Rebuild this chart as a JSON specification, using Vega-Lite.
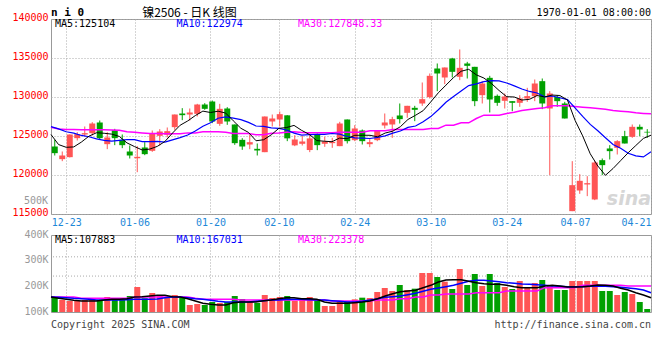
{
  "$schema": "https://vega.github.io/schema/vega-lite/v6.json",
  "background": "white",
  "padding": {"left": 11, "top": 6, "right": 8, "bottom": 4},
  "spacing": 0,
  "config": {
    "view": {"stroke": "#999999", "strokeWidth": 1},
    "axis": {"labelFont": "DejaVu Sans Mono", "labelFontSize": 10, "title": null},
    "text": {"font": "DejaVu Sans Mono", "fontSize": 10}
  },
  "resolve": {"scale": {"x": "independent", "y": "independent"}},
  "datasets": {
    "k": [
      {"d":"2024-12-19","o":123654,"h":124509,"l":122501,"c":122800,"v":158440,"m5":125190,"m10":126200,"m30":126130,"vm5":158440,"vm10":158440,"vm30":158440},
      {"d":"2024-12-20","o":122031,"h":123013,"l":121774,"c":122501,"v":146750,"m5":123900,"m10":125920,"m30":125900,"vm5":153260,"vm10":157140,"vm30":158440},
      {"d":"2024-12-23","o":122287,"h":125200,"l":122250,"c":125193,"v":142860,"m5":123550,"m10":125540,"m30":125830,"vm5":149360,"vm10":155840,"vm30":158440},
      {"d":"2024-12-24","o":124723,"h":125490,"l":124424,"c":125235,"v":142860,"m5":123600,"m10":125370,"m30":125820,"vm5":145450,"vm10":153260,"vm30":158440},
      {"d":"2024-12-25","o":125193,"h":126218,"l":124936,"c":125364,"v":146750,"m5":124220,"m10":125070,"m30":125810,"vm5":142860,"vm10":151930,"vm30":153260},
      {"d":"2024-12-26","o":125364,"h":126774,"l":125064,"c":126603,"v":146750,"m5":124980,"m10":124900,"m30":125800,"vm5":142860,"vm10":149360,"vm30":153260},
      {"d":"2024-12-27","o":126731,"h":126987,"l":124509,"c":124723,"v":146750,"m5":125420,"m10":124640,"m30":125800,"vm5":142860,"vm10":146750,"vm30":153260},
      {"d":"2024-12-30","o":123954,"h":125492,"l":123312,"c":124808,"v":158440,"m5":125350,"m10":124430,"m30":125790,"vm5":146750,"vm10":146750,"vm30":153260},
      {"d":"2024-12-31","o":125748,"h":125919,"l":123825,"c":124723,"v":153370,"m5":125240,"m10":124340,"m30":125770,"vm5":149360,"vm10":146750,"vm30":153260},
      {"d":"2025-01-02","o":124509,"h":125193,"l":123441,"c":123825,"v":146750,"m5":124940,"m10":124450,"m30":125750,"vm5":149360,"vm10":146750,"vm30":153260},
      {"d":"2025-01-03","o":123013,"h":123783,"l":122116,"c":122501,"v":162340,"m5":124120,"m10":124550,"m30":125540,"vm5":151930,"vm10":148050,"vm30":153260},
      {"d":"2025-01-06","o":122150,"h":123700,"l":120360,"c":122330,"v":197400,"m5":123640,"m10":124530,"m30":125480,"vm5":158440,"vm10":149360,"vm30":158440},
      {"d":"2025-01-07","o":123526,"h":124210,"l":122543,"c":122672,"v":153370,"m5":123210,"m10":124280,"m30":125400,"vm5":159740,"vm10":149360,"vm30":158440},
      {"d":"2025-01-08","o":123099,"h":125705,"l":122970,"c":125278,"v":174020,"m5":123320,"m10":124280,"m30":125320,"vm5":162340,"vm10":149360,"vm30":158440},
      {"d":"2025-01-09","o":125022,"h":125876,"l":123783,"c":125577,"v":166230,"m5":123670,"m10":124300,"m30":125320,"vm5":164940,"vm10":150650,"vm30":158440},
      {"d":"2025-01-10","o":125150,"h":126090,"l":124808,"c":125620,"v":158440,"m5":124300,"m10":124210,"m30":125280,"vm5":164940,"vm10":155840,"vm30":158440},
      {"d":"2025-01-13","o":126133,"h":127756,"l":125791,"c":127756,"v":166230,"m5":125380,"m10":124510,"m30":125280,"vm5":159740,"vm10":158440,"vm30":158440},
      {"d":"2025-01-14","o":127885,"h":128568,"l":127030,"c":127671,"v":158440,"m5":126380,"m10":124800,"m30":125280,"vm5":158440,"vm10":158440,"vm30":158440},
      {"d":"2025-01-15","o":127756,"h":128526,"l":126987,"c":128013,"v":127270,"m5":126930,"m10":125120,"m30":125400,"vm5":151930,"vm10":155840,"vm30":158440},
      {"d":"2025-01-16","o":127842,"h":129124,"l":127500,"c":129038,"v":131170,"m5":127620,"m10":125650,"m30":125400,"vm5":142860,"vm10":151930,"vm30":153260},
      {"d":"2025-01-17","o":129038,"h":129209,"l":128355,"c":128483,"v":127270,"m5":128190,"m10":126240,"m30":125530,"vm5":133780,"vm10":149360,"vm30":149360},
      {"d":"2025-01-20","o":129423,"h":129551,"l":126645,"c":126859,"v":138960,"m5":128010,"m10":126700,"m30":125530,"vm5":129870,"vm10":145450,"vm30":149360},
      {"d":"2025-01-21","o":126560,"h":129124,"l":126304,"c":128483,"v":135060,"m5":128180,"m10":127280,"m30":125530,"vm5":127270,"vm10":141560,"vm30":149360},
      {"d":"2025-01-22","o":128526,"h":128697,"l":126432,"c":126859,"v":138960,"m5":127940,"m10":127440,"m30":125490,"vm5":127270,"vm10":138960,"vm30":149360},
      {"d":"2025-01-23","o":126475,"h":126475,"l":123868,"c":124082,"v":162340,"m5":126950,"m10":127290,"m30":125320,"vm5":136370,"vm10":138960,"vm30":149360},
      {"d":"2025-01-24","o":124509,"h":124723,"l":123227,"c":123654,"v":150650,"m5":125990,"m10":127090,"m30":125320,"vm5":138960,"vm10":138960,"vm30":146750},
      {"d":"2025-01-27","o":123911,"h":125150,"l":123312,"c":124210,"v":138960,"m5":125460,"m10":126740,"m30":125320,"vm5":138960,"vm10":138960,"vm30":146750},
      {"d":"2025-02-05","o":123355,"h":124039,"l":122501,"c":123142,"v":135060,"m5":124390,"m10":126280,"m30":125150,"vm5":138960,"vm10":141560,"vm30":146750},
      {"d":"2025-02-06","o":122928,"h":127500,"l":122928,"c":127500,"v":166230,"m5":124520,"m10":126230,"m30":125150,"vm5":144160,"vm10":144160,"vm30":146750},
      {"d":"2025-02-07","o":126859,"h":127756,"l":126219,"c":127244,"v":154540,"m5":125150,"m10":126050,"m30":125360,"vm5":146750,"vm10":146750,"vm30":146750},
      {"d":"2025-02-10","o":127116,"h":128141,"l":126219,"c":127799,"v":158440,"m5":125980,"m10":125980,"m30":125400,"vm5":151930,"vm10":146750,"vm30":146750},
      {"d":"2025-02-11","o":127650,"h":127671,"l":124338,"c":124700,"v":162340,"m5":126080,"m10":125770,"m30":125490,"vm5":155840,"vm10":149360,"vm30":146750},
      {"d":"2025-02-12","o":123800,"h":125109,"l":123699,"c":124553,"v":142860,"m5":126360,"m10":125370,"m30":125560,"vm5":155840,"vm10":149360,"vm30":146750},
      {"d":"2025-02-13","o":124000,"h":125023,"l":123784,"c":124297,"v":150650,"m5":125720,"m10":125120,"m30":125450,"vm5":151930,"vm10":149360,"vm30":146750},
      {"d":"2025-02-14","o":123200,"h":125323,"l":122929,"c":124690,"v":158440,"m5":125210,"m10":125180,"m30":125410,"vm5":151930,"vm10":148050,"vm30":146750},
      {"d":"2025-02-17","o":125194,"h":125323,"l":123186,"c":123827,"v":150650,"m5":124410,"m10":125200,"m30":125410,"vm5":149360,"vm10":146750,"vm30":146750},
      {"d":"2025-02-18","o":124003,"h":124895,"l":123613,"c":124297,"v":123380,"m5":124330,"m10":125200,"m30":125410,"vm5":138960,"vm10":146750,"vm30":146750},
      {"d":"2025-02-19","o":124083,"h":124767,"l":123485,"c":124254,"v":123380,"m5":124270,"m10":125320,"m30":125410,"vm5":133780,"vm10":144160,"vm30":142860},
      {"d":"2025-02-20","o":123699,"h":126818,"l":123699,"c":126604,"v":140260,"m5":124730,"m10":125230,"m30":125490,"vm5":133780,"vm10":141560,"vm30":142860},
      {"d":"2025-02-21","o":127117,"h":127117,"l":124040,"c":124339,"v":141560,"m5":124660,"m10":124940,"m30":125490,"vm5":133780,"vm10":138960,"vm30":142860},
      {"d":"2025-02-24","o":124468,"h":126391,"l":124339,"c":125963,"v":149350,"m5":125090,"m10":124750,"m30":125490,"vm5":136370,"vm10":138960,"vm30":142860},
      {"d":"2025-02-25","o":125707,"h":125835,"l":123912,"c":124339,"v":155840,"m5":125100,"m10":124720,"m30":125490,"vm5":138960,"vm10":141560,"vm30":142860},
      {"d":"2025-02-26","o":123955,"h":124596,"l":123571,"c":124211,"v":154540,"m5":125090,"m10":124680,"m30":125660,"vm5":142860,"vm10":146750,"vm30":142860},
      {"d":"2025-02-27","o":124468,"h":125664,"l":124339,"c":125664,"v":177920,"m5":124900,"m10":124820,"m30":125660,"vm5":151930,"vm10":151930,"vm30":146750},
      {"d":"2025-02-28","o":126348,"h":127886,"l":125963,"c":126733,"v":193500,"m5":125380,"m10":125020,"m30":125660,"vm5":162340,"vm10":157140,"vm30":146750},
      {"d":"2025-03-03","o":126476,"h":127459,"l":124767,"c":127160,"v":181820,"m5":125620,"m10":125360,"m30":125830,"vm5":171420,"vm10":159740,"vm30":146750},
      {"d":"2025-03-04","o":127630,"h":129168,"l":126604,"c":127160,"v":205190,"m5":126190,"m10":125640,"m30":125830,"vm5":179230,"vm10":162340,"vm30":151930},
      {"d":"2025-03-05","o":127972,"h":128869,"l":127331,"c":128869,"v":185710,"m5":127120,"m10":126100,"m30":125830,"vm5":181820,"vm10":167540,"vm30":151930},
      {"d":"2025-03-06","o":128612,"h":128869,"l":126903,"c":128356,"v":190910,"m5":127660,"m10":126280,"m30":125835,"vm5":184420,"vm10":172720,"vm30":158440},
      {"d":"2025-03-07","o":129168,"h":131860,"l":128869,"c":129724,"v":251940,"m5":128250,"m10":126820,"m30":125835,"vm5":194790,"vm10":180520,"vm30":158440},
      {"d":"2025-03-10","o":129980,"h":133014,"l":129809,"c":132715,"v":251940,"m5":129370,"m10":127490,"m30":125960,"vm5":203900,"vm10":188320,"vm30":166230},
      {"d":"2025-03-11","o":133654,"h":134295,"l":130749,"c":133014,"v":236360,"m5":130540,"m10":128360,"m30":125960,"vm5":216880,"vm10":193500,"vm30":166230},
      {"d":"2025-03-12","o":132501,"h":133783,"l":131646,"c":133783,"v":218180,"m5":131520,"m10":129320,"m30":126390,"vm5":224670,"vm10":198710,"vm30":170130},
      {"d":"2025-03-13","o":134936,"h":135022,"l":132501,"c":133227,"v":189610,"m5":132490,"m10":130070,"m30":126390,"vm5":225980,"vm10":203900,"vm30":170130},
      {"d":"2025-03-14","o":132586,"h":136090,"l":132159,"c":133740,"v":267530,"m5":133300,"m10":130780,"m30":126690,"vm5":225980,"vm10":211690,"vm30":170130},
      {"d":"2025-03-17","o":134295,"h":134509,"l":132373,"c":133996,"v":205190,"m5":133550,"m10":131460,"m30":126690,"vm5":219480,"vm10":219480,"vm30":170130},
      {"d":"2025-03-18","o":133868,"h":133868,"l":128826,"c":129467,"v":248050,"m5":132840,"m10":131690,"m30":127245,"vm5":214270,"vm10":223370,"vm30":175310},
      {"d":"2025-03-19","o":130236,"h":132031,"l":129168,"c":131732,"v":201300,"m5":132430,"m10":131980,"m30":127670,"vm5":210380,"vm10":223370,"vm30":175310},
      {"d":"2025-03-20","o":132458,"h":132715,"l":128014,"c":129681,"v":248050,"m5":131720,"m10":132110,"m30":127670,"vm5":207790,"vm10":220780,"vm30":175310},
      {"d":"2025-03-21","o":130150,"h":130321,"l":128869,"c":129253,"v":212990,"m5":130830,"m10":132060,"m30":127670,"vm5":207790,"vm10":218180,"vm30":175310},
      {"d":"2025-03-24","o":129510,"h":130449,"l":128527,"c":130065,"v":197400,"m5":130040,"m10":131800,"m30":127886,"vm5":203900,"vm10":214270,"vm30":181820},
      {"d":"2025-03-25","o":129467,"h":129467,"l":128185,"c":129253,"v":189610,"m5":130000,"m10":131420,"m30":128057,"vm5":198710,"vm10":211690,"vm30":181820},
      {"d":"2025-03-26","o":129253,"h":130236,"l":128740,"c":129809,"v":220780,"m5":129610,"m10":131020,"m30":128270,"vm5":194790,"vm10":209080,"vm30":181820},
      {"d":"2025-03-27","o":129809,"h":131176,"l":129381,"c":130108,"v":193500,"m5":129700,"m10":130710,"m30":128400,"vm5":194790,"vm10":207790,"vm30":181820},
      {"d":"2025-03-28","o":130108,"h":132245,"l":129467,"c":131732,"v":212990,"m5":130190,"m10":130510,"m30":128527,"vm5":194790,"vm10":206490,"vm30":181820},
      {"d":"2025-03-31","o":132031,"h":132373,"l":128442,"c":129168,"v":224670,"m5":130010,"m10":130030,"m30":128612,"vm5":201300,"vm10":203900,"vm30":194790},
      {"d":"2025-04-01","o":128527,"h":130749,"l":119981,"c":130449,"v":201300,"m5":130250,"m10":130130,"m30":128869,"vm5":203900,"vm10":201300,"vm30":194790},
      {"d":"2025-04-02","o":130022,"h":130236,"l":128741,"c":129467,"v":185710,"m5":130190,"m10":129900,"m30":128869,"vm5":201300,"vm10":200000,"vm30":194790},
      {"d":"2025-04-03","o":129168,"h":129381,"l":127245,"c":127245,"v":185710,"m5":129610,"m10":129660,"m30":128869,"vm5":197400,"vm10":198710,"vm30":194790},
      {"d":"2025-04-07","o":115366,"h":121775,"l":115366,"c":118699,"v":220780,"m5":127010,"m10":128600,"m30":128783,"vm5":197400,"vm10":198710,"vm30":194790},
      {"d":"2025-04-08","o":118015,"h":120109,"l":117588,"c":119254,"v":220780,"m5":125020,"m10":127520,"m30":128698,"vm5":198710,"vm10":198710,"vm30":203900},
      {"d":"2025-04-09","o":118785,"h":119853,"l":117289,"c":118955,"v":220780,"m5":122720,"m10":126490,"m30":128612,"vm5":201300,"vm10":200000,"vm30":203900},
      {"d":"2025-04-10","o":116862,"h":121775,"l":116777,"c":121604,"v":220780,"m5":121150,"m10":125670,"m30":128527,"vm5":205190,"vm10":201300,"vm30":203900},
      {"d":"2025-04-11","o":121903,"h":122117,"l":119981,"c":121263,"v":181820,"m5":119960,"m10":124780,"m30":128441,"vm5":203900,"vm10":200000,"vm30":203900},
      {"d":"2025-04-14","o":123400,"h":123827,"l":121989,"c":123058,"v":181820,"m5":120830,"m10":123920,"m30":128270,"vm5":201300,"vm10":198710,"vm30":203900},
      {"d":"2025-04-15","o":123485,"h":124468,"l":122630,"c":124339,"v":166230,"m5":121840,"m10":123430,"m30":128185,"vm5":192190,"vm10":196110,"vm30":203900},
      {"d":"2025-04-16","o":124980,"h":125664,"l":124040,"c":124040,"v":177920,"m5":122860,"m10":122790,"m30":128100,"vm5":185710,"vm10":193500,"vm30":201300},
      {"d":"2025-04-17","o":124895,"h":126476,"l":124767,"c":126177,"v":170130,"m5":123780,"m10":122460,"m30":127971,"vm5":175310,"vm10":190910,"vm30":201300},
      {"d":"2025-04-18","o":126177,"h":126476,"l":124980,"c":125835,"v":138960,"m5":124690,"m10":122320,"m30":127900,"vm5":166230,"vm10":185710,"vm30":201300},
      {"d":"2025-04-21","o":125536,"h":125878,"l":124767,"c":125450,"v":111690,"m5":125104,"m10":122974,"m30":127848,"vm5":155840,"vm10":175310,"vm30":201300}
    ]
  },
  "vconcat": [
    {
      "width": 600,
      "height": 195,
      "resolve": {"scale": {"x": "independent"}, "axis": {"y": "independent"}},
      "layer": [
        {
          "data": {"name": "k"},
          "encoding": {
            "x": {"field": "d", "type": "ordinal", "scale": {"type": "band", "paddingInner": 0, "paddingOuter": 0}, "axis": null},
            "color": {"condition": {"test": "datum.c >= datum.o", "value": "#ff5555"}, "value": "#00a000"}
          },
          "layer": [
            {
              "mark": {"type": "rule", "strokeWidth": 1},
              "encoding": {
                "y": {"field": "l", "type": "quantitative", "scale": {"domain": [115000, 140000], "nice": false, "zero": false},
                  "axis": {"values": [115000, 120000, 125000, 130000, 135000, 140000], "format": "d", "grid": true, "gridColor": "#aaaaaa", "gridDash": [1, 2], "ticks": false, "domain": false, "labelColor": "#ff0000", "labelPadding": 3, "labelOverlap": false, "labelSeparation": -60, "labelOffset": -2, "title": null}},
                "y2": {"field": "h"}
              }
            },
            {
              "mark": {"type": "bar", "size": 6},
              "encoding": {
                "y": {"field": "o", "type": "quantitative", "axis": {"values": [115000, 120000, 125000, 130000, 135000, 140000], "format": "d", "grid": true, "gridColor": "#aaaaaa", "gridDash": [1, 2], "ticks": false, "domain": false, "labelColor": "#ff0000", "labelPadding": 3, "labelOverlap": false, "labelSeparation": -60, "labelOffset": -2, "title": null}},
                "y2": {"field": "c"}
              }
            }
          ]
        },
        {
          "encoding": {
            "x": {"field": "d", "type": "ordinal", "scale": {"type": "point", "padding": 0},
              "axis": {"values": ["2024-12-23", "2025-01-06", "2025-01-20", "2025-02-10", "2025-02-24", "2025-03-10", "2025-03-24", "2025-04-07", "2025-04-21"], "labelExpr": "slice(datum.label, 5)", "labelAngle": 0, "grid": true, "gridColor": "#aaaaaa", "gridDash": [1, 2], "ticks": false, "domain": false, "labelColor": "#1e88d8", "labelPadding": 3, "labelOverlap": false, "title": null,
                "labelAlign": {"condition": {"test": "datum.value == '2025-04-21'", "value": "right"}, "value": "center"}}}
          },
          "layer": [
            {
              "data": {"values": [{"d": "2025-04-21", "t": "sina"}]},
              "mark": {"type": "text", "align": "right", "baseline": "middle", "font": "DejaVu Sans", "fontSize": 19, "fontWeight": "bold", "fontStyle": "italic", "color": "#d6d6d6"},
              "encoding": {"y": {"datum": 116900, "axis": null}, "text": {"field": "t"}}
            },
            {
              "data": {"values": [{"d": "2024-12-19", "t": "500K"}]},
              "mark": {"type": "text", "align": "right", "baseline": "middle", "dx": -3, "fontSize": 10, "color": "#999999"},
              "encoding": {"y": {"datum": 116640, "axis": null}, "text": {"field": "t"}}
            },
            {"data": {"name": "k"}, "mark": {"type": "line", "color": "#ff00ff", "strokeWidth": 1.5}, "encoding": {"y": {"field": "m30", "type": "quantitative", "axis": null}}},
            {"data": {"name": "k"}, "mark": {"type": "line", "color": "#0000ff", "strokeWidth": 1.2}, "encoding": {"y": {"field": "m10", "type": "quantitative", "axis": null}}},
            {"data": {"name": "k"}, "mark": {"type": "line", "color": "#000000", "strokeWidth": 1}, "encoding": {"y": {"field": "m5", "type": "quantitative", "axis": null}}},
            {
              "data": {"values": [
                {"d": "2024-12-19", "t": "MA5:125104", "s": "MA5"},
                {"d": "2025-01-13", "t": "MA10:122974", "s": "MA10"},
                {"d": "2025-02-12", "t": "MA30:127848.33", "s": "MA30"}
              ]},
              "mark": {"type": "text", "align": "left", "baseline": "middle", "dx": 4, "fontSize": 10},
              "encoding": {
                "y": {"datum": 139300, "axis": null},
                "text": {"field": "t"},
                "color": {"field": "s", "type": "nominal", "scale": {"domain": ["MA5", "MA10", "MA30"], "range": ["#000000", "#0000ff", "#ff00ff"]}, "legend": null}
              }
            },
            {
              "data": {"values": [{"d": "2024-12-19", "t": "n i 0"}]},
              "mark": {"type": "text", "align": "left", "baseline": "middle", "fontSize": 11, "fontWeight": "bold", "color": "#000000"},
              "encoding": {"y": {"datum": 140833, "axis": null}, "text": {"field": "t"}}
            },
            {
              "data": {"values": [{"d": "2025-01-07", "t": "镍2506 - 日K 线图"}]},
              "mark": {"type": "text", "align": "left", "baseline": "middle", "font": "Noto Sans CJK SC", "fontSize": 12, "color": "#000000"},
              "encoding": {"y": {"datum": 140833, "axis": null}, "text": {"field": "t"}}
            },
            {
              "data": {"values": [{"d": "2025-04-21", "t": "1970-01-01 08:00:00"}]},
              "mark": {"type": "text", "align": "right", "baseline": "middle", "fontSize": 10, "color": "#000000"},
              "encoding": {"y": {"datum": 140750, "axis": null}, "text": {"field": "t"}}
            }
          ]
        }
      ]
    },
    {
      "width": 600,
      "height": 77,
      "resolve": {"scale": {"x": "independent"}, "axis": {"y": "independent"}},
      "layer": [
        {
          "data": {"values": [{"g": 240000}, {"g": 315000}]},
          "mark": {"type": "rule", "color": "#aaaaaa", "strokeDash": [1, 2]},
          "encoding": {
            "y": {"field": "g", "type": "quantitative", "scale": {"domain": [100000, 400000], "nice": false, "zero": false},
              "axis": {"values": [100000, 200000, 300000, 400000], "labelExpr": "datum.value / 1000 + 'K'", "grid": false, "ticks": false, "domain": false, "labelColor": "#999999", "labelPadding": 3, "labelOverlap": false, "labelSeparation": -60, "labelOffset": -1, "title": null}}
          }
        },
        {
          "data": {"name": "k"},
          "mark": {"type": "bar", "size": 6},
          "encoding": {
            "x": {"field": "d", "type": "ordinal", "scale": {"type": "band", "paddingInner": 0, "paddingOuter": 0}, "axis": null},
            "y": {"field": "v", "type": "quantitative", "axis": null},
            "y2": {"datum": 100000},
            "color": {"condition": {"test": "datum.c >= datum.o", "value": "#ff5555"}, "value": "#00a000"}
          }
        },
        {
          "encoding": {
            "x": {"field": "d", "type": "ordinal", "scale": {"type": "point", "padding": 0},
              "axis": {"values": ["2024-12-23", "2025-01-06", "2025-01-20", "2025-02-10", "2025-02-24", "2025-03-10", "2025-03-24", "2025-04-07", "2025-04-21"], "labels": false, "grid": true, "gridColor": "#aaaaaa", "gridDash": [1, 2], "ticks": false, "domain": false, "title": null}}
          },
          "layer": [
            {"data": {"name": "k"}, "mark": {"type": "line", "color": "#ff00ff", "strokeWidth": 1.5}, "encoding": {"y": {"field": "vm30", "type": "quantitative", "axis": null}}},
            {"data": {"name": "k"}, "mark": {"type": "line", "color": "#0000ff", "strokeWidth": 1.5}, "encoding": {"y": {"field": "vm10", "type": "quantitative", "axis": null}}},
            {"data": {"name": "k"}, "mark": {"type": "line", "color": "#000000", "strokeWidth": 1.5}, "encoding": {"y": {"field": "vm5", "type": "quantitative", "axis": null}}},
            {
              "data": {"values": [
                {"d": "2024-12-19", "t": "MA5:107883", "s": "MA5"},
                {"d": "2025-01-13", "t": "MA10:167031", "s": "MA10"},
                {"d": "2025-02-12", "t": "MA30:223378", "s": "MA30"}
              ]},
              "mark": {"type": "text", "align": "left", "baseline": "middle", "dx": 4, "fontSize": 10},
              "encoding": {
                "y": {"datum": 381000, "axis": null},
                "text": {"field": "t"},
                "color": {"field": "s", "type": "nominal", "scale": {"domain": ["MA5", "MA10", "MA30"], "range": ["#000000", "#0000ff", "#ff00ff"]}, "legend": null}
              }
            },
            {
              "data": {"values": [{"d": "2024-12-19", "t": "Copyright 2025 SINA.COM"}]},
              "mark": {"type": "text", "align": "left", "baseline": "middle", "fontSize": 10, "color": "#444444"},
              "encoding": {"y": {"datum": 49000, "axis": null}, "text": {"field": "t"}}
            },
            {
              "data": {"values": [{"d": "2025-04-21", "t": "http://finance.sina.com.cn"}]},
              "mark": {"type": "text", "align": "right", "baseline": "middle", "fontSize": 10, "color": "#444444"},
              "encoding": {"y": {"datum": 49000, "axis": null}, "text": {"field": "t"}}
            }
          ]
        }
      ]
    }
  ]
}
